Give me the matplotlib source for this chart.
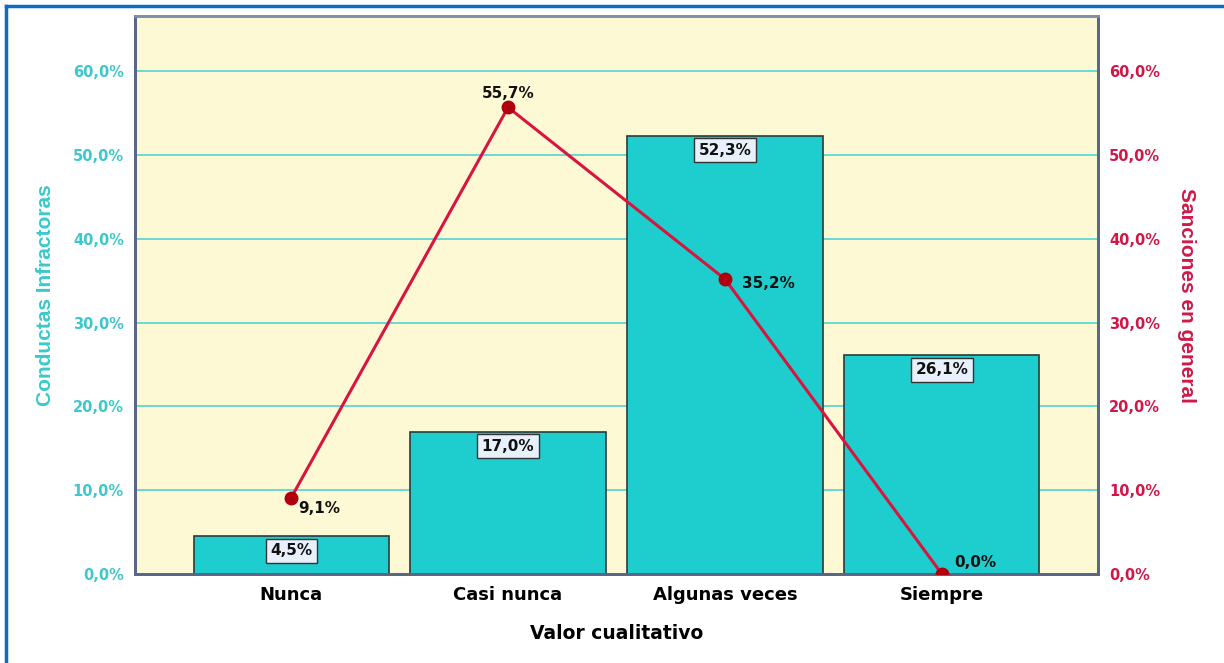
import matplotlib.pyplot as plt
from matplotlib.lines import Line2D
from matplotlib.ticker import FuncFormatter

categorias = ['Nunca', 'Casi nunca', 'Algunas veces', 'Siempre']
conductas = [4.5, 17.0, 52.3, 26.1]
sanciones = [9.1, 55.7, 35.2, 0.0]
ticks_y = [0, 10, 20, 30, 40, 50, 60]

cian = '#1ECDCD'
cian_txt = '#3CC8CC'
rojo = '#D9143F'
rojo_txt = '#D01848'
fondo = '#FEF9D5'
borde = '#5A6688'
etiqueta_eje = ['Liberation Sans', 'DejaVu Sans']

plt.rcParams['font.family'] = ['DejaVu Sans']
plt.rcParams['font.weight'] = 'bold'

fig = plt.figure(figsize=(12.24, 6.63), dpi=100)
ax = fig.add_axes([135 / 1224, 1 - 574 / 663, 963 / 1224, 558 / 663])
ax.set_facecolor(fondo)

x = list(range(len(categorias)))
bars = ax.bar(x, conductas, width=0.9, color=cian, edgecolor='#2E3A3A', linewidth=1.2, zorder=2)
ax.set_xlim(-0.72, 3.72)
ax.set_ylim(0, 66.6)
ax.set_yticks(ticks_y)
fmt = FuncFormatter(lambda v, p: f'{v:.1f}%'.replace('.', ','))
ax.yaxis.set_major_formatter(fmt)
ax.grid(axis='y', color='#4FD3D3', linewidth=1.2, zorder=0)
ax.set_axisbelow(True)
ax.tick_params(axis='y', length=0, pad=8, labelsize=10.5, labelcolor=cian_txt)
ax.tick_params(axis='x', length=0, pad=9, labelsize=13)
ax.set_xticks(x)
ax.set_xticklabels(categorias, fontweight='bold')
for lab in ax.get_yticklabels():
    lab.set_fontweight('bold')
ax.set_xlabel('Valor cualitativo', fontsize=13.5, fontweight='bold', labelpad=14)
ax.set_ylabel('Conductas Infractoras', fontsize=15, fontweight='bold', color=cian_txt, labelpad=13,
              family=etiqueta_eje)

for sp in ax.spines.values():
    sp.set_color(borde)
    sp.set_linewidth(2)
ax.spines['top'].set_color('#8090A8')

# etiquetas de las barras
for xi, v in zip(x, conductas):
    ax.annotate(f'{v:.1f}%'.replace('.', ','), xy=(xi, v), xytext=(0, -10.5),
                textcoords='offset points', ha='center', va='center', fontsize=11,
                fontweight='bold', color='#111111', zorder=5,
                bbox=dict(boxstyle='square,pad=0.3', facecolor='#E8F0FC', edgecolor='#333333', linewidth=1))

ax2 = ax.twinx()
ax2.set_ylim(0, 66.6)
ax2.set_yticks(ticks_y)
ax2.yaxis.set_major_formatter(fmt)
ax2.tick_params(axis='y', length=0, pad=8, labelsize=10.5, labelcolor=rojo_txt)
for lab in ax2.get_yticklabels():
    lab.set_fontweight('bold')
ax2.set_ylabel('Sanciones en general', fontsize=15, fontweight='bold', color=rojo_txt,
               rotation=270, labelpad=26, family=etiqueta_eje)
for sp in ax2.spines.values():
    sp.set_color(borde)
    sp.set_linewidth(2)
ax2.spines['top'].set_color('#8090A8')

ax2.plot(x, sanciones, color=rojo, linewidth=2.2, zorder=3,
         marker='o', markersize=9, markerfacecolor='#B00010', markeredgecolor='#B00010')

offsets = [(5, -8), (0, 10), (12, -3), (9, 8)]
for xi, v, (dx, dy) in zip(x, sanciones, offsets):
    ha = 'left' if dx > 0 else 'center'
    ax2.annotate(f'{v:.1f}%'.replace('.', ','), xy=(xi, v), xytext=(dx, dy),
                 textcoords='offset points', ha=ha, va='center', fontsize=11,
                 fontweight='bold', color='#111111', zorder=5)

# marco azul de la ventana
fig.add_artist(Line2D([6 / 1224, 6 / 1224], [0, 1 - 6 / 663], color='#0A6FC4', linewidth=2.5))
fig.add_artist(Line2D([6 / 1224, 1], [1 - 6 / 663, 1 - 6 / 663], color='#0A6FC4', linewidth=2.5))

fig.savefig('out.png', dpi=100)
